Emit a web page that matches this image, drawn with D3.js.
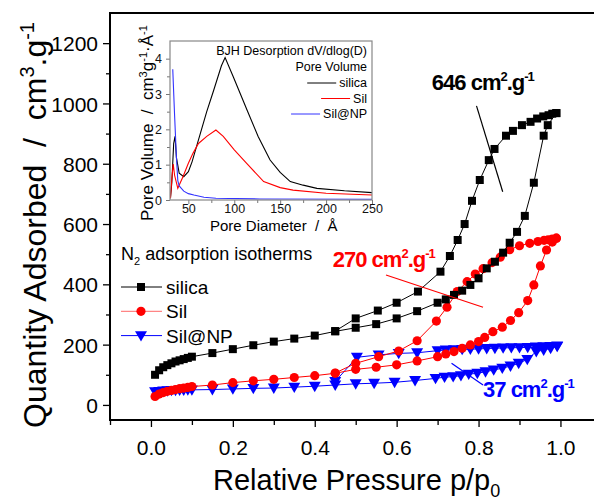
<!DOCTYPE html>
<html>
<head>
<meta charset="utf-8">
<script src="https://cdn.jsdelivr.net/npm/d3@7"></script>
<style>
  body { margin: 0; background: #fff; }
  svg { display: block; font-family: "Liberation Sans", Arial, sans-serif; }
  .axis text { fill: #000; }
</style>
</head>
<body>
<div id="chart"></div>
<script>
// main isotherm data: [p/p0, quantity adsorbed]
const silicaAds = [[0.01,100],[0.02,115],[0.03,125],[0.04,132],[0.05,138],[0.06,144],[0.07,148],[0.08,152],[0.09,156],[0.1,160],[0.15,172],[0.2,185],[0.25,198],[0.3,210],[0.35,220],[0.4,230],[0.45,244],[0.5,256],[0.55,268],[0.6,287],[0.65,311],[0.7,339],[0.72,350],[0.74,365],[0.76,379],[0.78,398],[0.8,420],[0.82,453],[0.84,475],[0.86,505],[0.876,538],[0.894,574],[0.913,627],[0.935,737],[0.959,893],[0.969,928],[0.99,968]];
const silicaDes = [[0.99,968],[0.98,966],[0.971,961],[0.958,957],[0.943,950],[0.927,939],[0.906,928],[0.884,909],[0.867,893],[0.839,849],[0.825,812],[0.803,746],[0.784,677],[0.766,600],[0.749,547],[0.73,494],[0.707,442],[0.652,376],[0.6,339],[0.554,313],[0.5,287],[0.45,245]];
const silAds = [[0.01,28],[0.02,36],[0.03,41],[0.04,45],[0.05,48],[0.06,51],[0.07,54],[0.08,56],[0.09,58],[0.1,61],[0.15,66],[0.2,74],[0.25,80],[0.3,85],[0.35,91],[0.4,97],[0.45,105],[0.5,118],[0.55,125],[0.6,133],[0.65,146],[0.7,160],[0.72,169],[0.74,177],[0.76,188],[0.78,199],[0.8,210],[0.815,224],[0.835,243],[0.858,258],[0.878,280],[0.898,306],[0.92,346],[0.935,398],[0.951,461],[0.966,514],[0.98,540],[0.99,553]];
const silDes = [[0.99,553],[0.98,550],[0.97,548],[0.96,546],[0.945,542],[0.925,536],[0.9,528],[0.876,515],[0.853,490],[0.833,472],[0.811,452],[0.792,434],[0.772,409],[0.748,376],[0.723,324],[0.697,278],[0.65,213],[0.605,179],[0.556,160],[0.5,138],[0.45,106]];
const npAds = [[0.01,44],[0.02,45],[0.03,46],[0.04,47],[0.05,48],[0.06,48],[0.07,49],[0.08,49],[0.09,50],[0.1,50],[0.15,51],[0.2,53],[0.25,55],[0.3,56],[0.35,59],[0.4,62],[0.45,66],[0.5,70],[0.545,72],[0.595,75],[0.645,81],[0.695,88],[0.717,92],[0.738,94],[0.757,97],[0.776,102],[0.797,105],[0.817,110],[0.837,116],[0.858,122],[0.878,129],[0.898,138],[0.919,151],[0.941,177],[0.959,182],[0.976,188],[0.992,194]];
const npDes = [[0.992,196],[0.975,194],[0.958,193],[0.94,192],[0.92,191],[0.9,190],[0.88,190],[0.86,189],[0.84,188],[0.82,187],[0.8,186],[0.78,185],[0.76,184],[0.74,183],[0.72,182],[0.7,180],[0.65,173],[0.605,171],[0.556,166],[0.503,158],[0.45,78]];

// inset BJH pore size distribution: [diameter, dV/dlog(D)]
const bjhSilica = [[30.5,0.05],[32,0.5],[34,1.6],[35.5,1.8],[37,1.2],[40,0.76],[45,0.66],[50,0.8],[54,1.08],[63,1.88],[70,2.5],[77.5,3.1],[86,3.8],[90,4.03],[99,3.48],[114,2.54],[126,1.8],[139,1.13],[150,0.78],[161,0.52],[175,0.42],[190,0.33],[220,0.26],[250,0.21]];
const bjhSil = [[30.5,0.05],[32,0.6],[33.5,1.02],[35,0.7],[38.5,0.33],[44,0.65],[50,1.04],[55,1.32],[61,1.6],[70,1.8],[80,1.98],[88,1.8],[100,1.42],[113,1.05],[132,0.52],[150,0.35],[164,0.28],[200,0.19],[250,0.14]];
const bjhNP = [[33,3.7],[35,2.4],[37,1.2],[38.5,0.55],[40,0.4],[45,0.25],[50,0.18],[56,0.14],[67,0.08],[80,0.05],[128,0.03],[250,0.02]];

const xTicks = [0, 0.2, 0.4, 0.6, 0.8, 1.0];
const xMinor = [-0.1, 0.1, 0.3, 0.5, 0.7, 0.9, 1.1];
const yTicks = [0, 200, 400, 600, 800, 1000, 1200];
const yMinor = [100, 300, 500, 700, 900, 1100];
const insetXTicks = [50, 100, 150, 200, 250];
const insetXMinor = [75, 125, 175, 225];
const insetYTicks = [0, 1, 2, 3, 4];
const insetYMinor = [0.5, 1.5, 2.5, 3.5];

const svg = d3.select("#chart").append("svg").attr("width", 594).attr("height", 500);

const x = d3.scaleLinear().domain([-0.1, 1.1]).range([110, 601.4]);
const y = d3.scaleLinear().domain([-50, 1300]).range([420, 13]);

// minor + major ticks
function ticks(axisFn, scale, vals, size, fmt, transform, fontSize) {
	const g = svg.append("g").attr("class", "axis").attr("transform", transform)
		.call(axisFn(scale).tickValues(vals).tickSize(size).tickSizeOuter(0).tickFormat(fmt));
	g.select(".domain").remove();
	g.selectAll("line").attr("stroke", "#000").attr("stroke-width", 1.3);
	g.selectAll("text").style("font-size", fontSize + "px");
	return g;
}
const xAx = ticks(d3.axisBottom, x, xTicks, 7, d3.format(".1f"), "translate(0,420)", 21);
xAx.selectAll("text").attr("dy", "1.2em");
ticks(d3.axisBottom, x, xMinor, 5, "", "translate(0,420)", 21);
const yAx = ticks(d3.axisLeft, y, yTicks, 7, d3.format("d"), "translate(110,0)", 21);
yAx.selectAll("text").attr("dx", "-2").attr("dy", "0.36em");
ticks(d3.axisLeft, y, yMinor, 4, "", "translate(110,0)", 21);

// frame
svg.append("path")
	.attr("d", `M${x(1.1)},${y(1300)}H${x(-0.1)}V${y(-50)}H${x(1.1)}`)
	.attr("fill", "none").attr("stroke", "#000").attr("stroke-width", 2);

// axis titles
svg.append("text")
	.attr("x", 213).attr("y", 490)
	.style("font-size", "29px")
	.html('Relative Pressure p/p<tspan dy="7" style="font-size:18px">0</tspan>');

svg.append("text")
	.attr("transform", "translate(46,428) rotate(-90)")
	.style("font-size", "32px")
	.style("white-space", "pre")
	.html('Quantity Adsorbed  /  cm<tspan dy="-12" style="font-size:20px">3</tspan><tspan dy="12">.g</tspan><tspan dy="-12" style="font-size:20px">-1</tspan>');

// series
const series = [
	{ name: "silica", color: "#000", ads: silicaAds, des: silicaDes, symbol: d3.symbolSquare, size: 64, rot: 0 },
	{ name: "Sil", color: "#ff0000", ads: silAds, des: silDes, symbol: d3.symbolCircle, size: 66, rot: 0 },
	{ name: "Sil@NP", color: "#0000ff", ads: npAds, des: npDes, symbol: d3.symbolTriangle, size: 62, rot: 180 }
];

const line = d3.line().x(d => x(d[0])).y(d => y(d[1]));

// draw back to front: NP, Sil, silica
series.slice().reverse().forEach(s => {
	const g = svg.append("g");
	[s.ads, s.des].forEach(arr => {
		g.append("path").attr("d", line(arr)).attr("fill", "none").attr("stroke", s.color).attr("stroke-width", 1);
	});
	g.selectAll("path.m").data(s.ads.concat(s.des)).enter().append("path")
		.attr("class", "m")
		.attr("d", d3.symbol().type(s.symbol).size(s.size))
		.attr("transform", d => `translate(${x(d[0])},${y(d[1]) + (s.rot ? -1 : 0)}) rotate(${s.rot})`)
		.attr("fill", s.color);
});

// surface area annotations
const notes = [
	{ text: "646", color: "#000", tx: 0.686, ty: 1045, l: [[0.795, 992], [0.859, 707]] },
	{ text: "270", color: "#ff0000", tx: 0.444, ty: 458, l: [[0.574, 431], [0.811, 324]] },
	{ text: "37", color: "#0000ff", tx: 0.811, ty: 27, l: [[0.734, 138], [0.811, 66]] }
];
notes.forEach(n => {
	svg.append("path").attr("d", line(n.l)).attr("stroke", n.color).attr("stroke-width", 1.2).attr("fill", "none");
	svg.append("text")
		.attr("x", x(n.tx)).attr("y", y(n.ty))
		.attr("fill", n.color)
		.style("font-size", "22px").style("font-weight", "bold").style("letter-spacing", "-1px")
		.html(`${n.text} cm<tspan dy="-9" style="font-size:13px">2</tspan><tspan dy="9">.g</tspan><tspan dy="-9" style="font-size:13px">-1</tspan>`);
});

// main legend
svg.append("text").attr("x", 121).attr("y", 260).style("font-size", "18px")
	.html('N<tspan dy="5" style="font-size:11px">2</tspan><tspan dy="-5"> adsorption isotherms</tspan>');
series.forEach((s, i) => {
	const cy = 287 + i * 24.3;
	svg.append("line").attr("x1", 121).attr("x2", 162).attr("y1", cy).attr("y2", cy)
		.attr("stroke", s.color).attr("stroke-width", 1).attr("stroke-opacity", s.name === "Sil" ? 0.6 : 1);
	svg.append("path")
		.attr("d", d3.symbol().type(s.symbol).size(s.size)())
		.attr("transform", `translate(141,${cy + (s.rot ? -1 : 0)}) rotate(${s.rot})`)
		.attr("fill", s.color);
	svg.append("text").attr("x", 166).attr("y", cy + 7).style("font-size", "19px").text(s.name);
});

// inset
const ix = d3.scaleLinear().domain([30, 250]).range([170, 372]);
const iy = d3.scaleLinear().domain([0, 4.5]).range([200, 41]);
const inset = svg.append("g");
inset.append("rect").attr("x", 170).attr("y", 41).attr("width", 202).attr("height", 159).attr("fill", "#fff");

svg.append("clipPath").attr("id", "iclip").append("rect").attr("x", 170).attr("y", 41).attr("width", 202).attr("height", 159);

function insetTicks(axisFn, scale, vals, size, fmt, transform) {
	const g = inset.append("g").attr("transform", transform)
		.call(axisFn(scale).tickValues(vals).tickSize(size).tickSizeOuter(0).tickFormat(fmt));
	g.select(".domain").remove();
	g.selectAll("line").attr("stroke", "#777");
	g.selectAll("text").attr("fill", "#111").style("font-size", "12.5px");
	return g;
}
insetTicks(d3.axisBottom, ix, insetXTicks, 4, d3.format("d"), "translate(0,200)").selectAll("text").attr("dy", "0.48em");
insetTicks(d3.axisBottom, ix, insetXMinor, 3, "", "translate(0,200)");
insetTicks(d3.axisLeft, iy, insetYTicks, 4, d3.format("d"), "translate(170,0)").selectAll("text").attr("dx", "-1");
insetTicks(d3.axisLeft, iy, insetYMinor, 3, "", "translate(170,0)");

const iline = d3.line().x(d => ix(d[0])).y(d => iy(d[1]));
const curves = [[bjhSilica, "#000"], [bjhSil, "#ff0000"], [bjhNP, "#3333ff"]];
curves.forEach(c => {
	inset.append("path").attr("d", iline(c[0])).attr("clip-path", "url(#iclip)")
		.attr("fill", "none").attr("stroke", c[1]).attr("stroke-width", 1.1);
});
inset.append("rect").attr("x", 170).attr("y", 41).attr("width", 202).attr("height", 159)
	.attr("fill", "none").attr("stroke", "#888").attr("stroke-width", 1.2);

inset.append("text").attr("x", 210).attr("y", 231).style("font-size", "15px").style("white-space", "pre")
	.text("Pore Diameter  /  Å");
inset.append("text").attr("transform", "translate(153,221) rotate(-90)").style("font-size", "17px").style("white-space", "pre")
	.html('Pore Volume  /  cm<tspan dy="-6" style="font-size:11px">3</tspan><tspan dy="6">g</tspan><tspan dy="-6" style="font-size:11px">-1</tspan><tspan dy="6">·Å</tspan><tspan dy="-6" style="font-size:11px">-1</tspan>');

const ilegX = 367;
inset.append("text").attr("x", ilegX).attr("y", 55).attr("text-anchor", "end").style("font-size", "12.5px").text("BJH Desorption dV/dlog(D)");
inset.append("text").attr("x", ilegX).attr("y", 71).attr("text-anchor", "end").style("font-size", "12.5px").text("Pore Volume");
series.forEach((s, i) => {
	const t = inset.append("text").attr("x", ilegX).attr("y", 87 + i * 15.5).attr("text-anchor", "end")
		.style("font-size", "12.5px").text(s.name);
	const w = t.node().getComputedTextLength();
	inset.append("line").attr("x1", ilegX - w - 32).attr("x2", ilegX - w - 3)
		.attr("y1", 83 + i * 15.5).attr("y2", 83 + i * 15.5)
		.attr("stroke", curves[i][1]).attr("stroke-width", 1);
});
</script>
</body>
</html>
